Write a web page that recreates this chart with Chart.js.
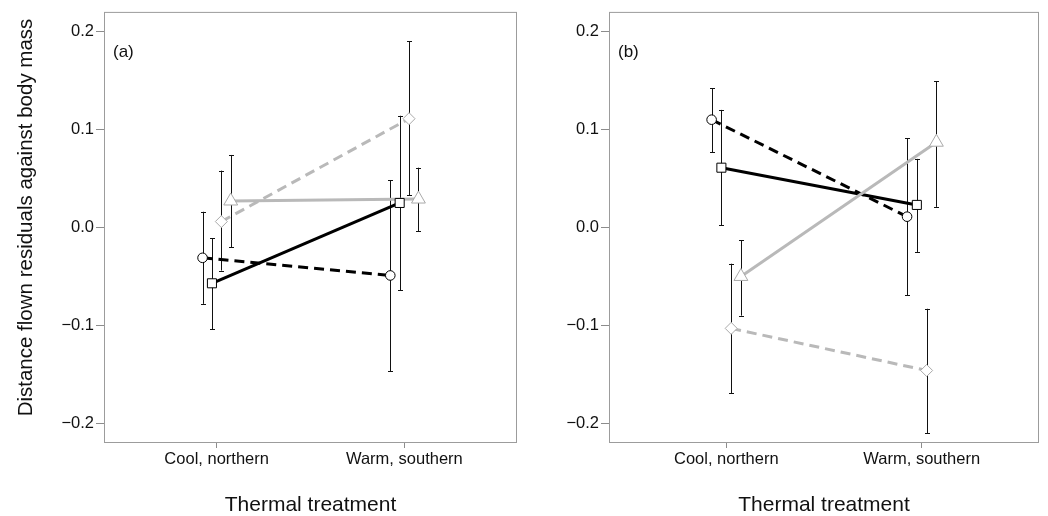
<!DOCTYPE html>
<html>
<head>
<meta charset="utf-8">
<script src="https://cdn.jsdelivr.net/npm/chart.js@4.4.1/dist/chart.umd.min.js"></script>
<style>
  html, body { margin: 0; padding: 0; background: #fff; }
  #wrap { position: relative; width: 1048px; height: 516px; }
  #wrap canvas { position: absolute; top: 0; }
</style>
</head>
<body>
<div id="wrap">
  <canvas id="panelA" width="530" height="516" style="left:0px"></canvas>
  <canvas id="panelB" width="508" height="516" style="left:540px"></canvas>
</div>
<script>
// categories and tick labels
const groups = ['Cool, northern', 'Warm, southern'];
const groupPos = [1, 2];
const dodge = [-0.075, -0.025, 0.025, 0.075];
const yTicks = [-0.2, -0.1, 0, 0.1, 0.2];
const yTickLabels = ['\u22120.2', '\u22120.1', '0.0', '0.1', '0.2'];

// panel (a): means and error limits, [cool, warm]
const aCircle = [-0.031, -0.049];
const aCircleLo = [-0.078, -0.147];
const aCircleHi = [0.016, 0.048];
const aSquare = [-0.057, 0.025];
const aSquareLo = [-0.104, -0.064];
const aSquareHi = [-0.011, 0.114];
const aDiamond = [0.006, 0.111];
const aDiamondLo = [-0.044, 0.033];
const aDiamondHi = [0.058, 0.190];
const aTriangle = [0.027, 0.029];
const aTriangleLo = [-0.020, -0.004];
const aTriangleHi = [0.074, 0.061];

// panel (b)
const bCircle = [0.110, 0.011];
const bCircleLo = [0.077, -0.069];
const bCircleHi = [0.142, 0.091];
const bSquare = [0.061, 0.023];
const bSquareLo = [0.002, -0.025];
const bSquareHi = [0.120, 0.070];
const bDiamond = [-0.103, -0.146];
const bDiamondLo = [-0.169, -0.210];
const bDiamondHi = [-0.037, -0.083];
const bTriangle = [-0.050, 0.087];
const bTriangleLo = [-0.090, 0.021];
const bTriangleHi = [-0.013, 0.149];

const FONT = '"Liberation Sans", Arial, Helvetica, sans-serif';
const GREY_LINE = '#b9b9b9';
const GREY_MARK = '#a9a9a9';

const styles = [
  { color: '#000', dash: [10, 6], point: 'circle', r: 4.8, edge: '#000' },
  { color: '#000', dash: [], point: 'rect', r: 6.4, edge: '#000' },
  { color: GREY_LINE, dash: [10, 6], point: 'rectRot', r: 6, edge: GREY_MARK },
  { color: GREY_LINE, dash: [], point: 'triangle', r: 8, edge: GREY_MARK }
];

function buildDatasets(series) {
  const lines = [], points = [];
  series.forEach((s, k) => {
    const st = styles[k];
    const pts = s.values.map((v, i) => ({ x: groupPos[i] + dodge[k], y: v }));
    lines.push({
      data: pts,
      borderColor: st.color,
      borderWidth: 3,
      borderDash: st.dash,
      pointRadius: 0,
      tension: 0,
      order: 20 - k
    });
    points.push({
      data: pts,
      showLine: false,
      pointStyle: st.point,
      pointRadius: st.r,
      pointBorderColor: st.edge,
      pointBackgroundColor: '#fff',
      pointBorderWidth: 1,
      errLo: s.lo,
      errHi: s.hi,
      order: 10 - k
    });
  });
  return lines.concat(points);
}

const panelDecor = {
  id: 'panelDecor',
  beforeDatasetsDraw(chart, args, opts) {
    const { ctx, chartArea: a, scales: { x, y } } = chart;
    ctx.save();
    ctx.strokeStyle = '#9c9c9c';
    ctx.lineWidth = 1;
    ctx.strokeRect(a.left + 0.5, a.top + 0.5, a.right - a.left - 1, a.bottom - a.top - 1);

    // error bars
    ctx.strokeStyle = '#111';
    chart.data.datasets.forEach(ds => {
      if (!ds.errLo) return;
      ds.data.forEach((p, i) => {
        const px = Math.round(x.getPixelForValue(p.x)) + 0.5;
        const yl = y.getPixelForValue(ds.errLo[i]);
        const yh = y.getPixelForValue(ds.errHi[i]);
        ctx.beginPath();
        ctx.moveTo(px, yl); ctx.lineTo(px, yh);
        ctx.moveTo(px - 2.5, Math.round(yl) + 0.5); ctx.lineTo(px + 2.5, Math.round(yl) + 0.5);
        ctx.moveTo(px - 2.5, Math.round(yh) + 0.5); ctx.lineTo(px + 2.5, Math.round(yh) + 0.5);
        ctx.stroke();
      });
    });
    ctx.restore();
  },
  afterDraw(chart, args, opts) {
    const { ctx, chartArea: a } = chart;
    ctx.save();
    ctx.fillStyle = '#111';
    ctx.font = '17px ' + FONT;
    ctx.textBaseline = 'middle';
    ctx.textAlign = 'left';
    ctx.fillText(opts.letter, a.left + 9, 52);
    if (opts.yTitle) {
      ctx.translate(32, 217.5);
      ctx.rotate(-Math.PI / 2);
      ctx.textAlign = 'center';
      ctx.textBaseline = 'alphabetic';
      ctx.font = '20.5px ' + FONT;
      ctx.fillText(opts.yTitle, 0, 0);
    }
    ctx.restore();
  }
};

function makePanel(id, series, letter, yTitle, yWidth, padRight) {
  const ctx = document.getElementById(id).getContext('2d');
  return new Chart(ctx, {
    type: 'line',
    data: { datasets: buildDatasets(series) },
    options: {
      responsive: false,
      animation: false,
      events: [],
      layout: { padding: { top: 8, right: padRight, bottom: 0, left: 0 } },
      plugins: {
        legend: { display: false },
        tooltip: { enabled: false },
        panelDecor: { letter: letter, yTitle: yTitle }
      },
      scales: {
        x: {
          type: 'linear',
          min: 0.4,
          max: 2.6,
          afterBuildTicks: s => { s.ticks = groupPos.map(v => ({ value: v })); },
          afterFit: s => { s.height = 73; },
          ticks: {
            callback: v => groups[groupPos.indexOf(v)],
            color: '#111',
            font: { family: FONT, size: 16.5 },
            padding: 2,
            maxRotation: 0
          },
          grid: { drawOnChartArea: false, tickLength: 5, tickColor: '#8c8c8c' },
          border: { display: false },
          title: {
            display: true,
            text: 'Thermal treatment',
            color: '#111',
            font: { family: FONT, size: 21, lineHeight: 1 },
            padding: { top: 0, bottom: 0 }
          }
        },
        y: {
          type: 'linear',
          min: -0.22,
          max: 0.22,
          afterBuildTicks: s => { s.ticks = yTicks.map(v => ({ value: v })); },
          afterFit: s => { s.width = yWidth; },
          ticks: {
            callback: v => yTickLabels[yTicks.findIndex(t => Math.abs(t - v) < 1e-9)],
            color: '#111',
            font: { family: FONT, size: 16.5 },
            padding: 2
          },
          grid: { drawOnChartArea: false, tickLength: 8, tickColor: '#8c8c8c' },
          border: { display: false }
        }
      }
    },
    plugins: [panelDecor]
  });
}

makePanel('panelA', [
  { values: aCircle, lo: aCircleLo, hi: aCircleHi },
  { values: aSquare, lo: aSquareLo, hi: aSquareHi },
  { values: aDiamond, lo: aDiamondLo, hi: aDiamondHi },
  { values: aTriangle, lo: aTriangleLo, hi: aTriangleHi }
], '(a)', 'Distance flown residuals against body mass', 104, 13);

makePanel('panelB', [
  { values: bCircle, lo: bCircleLo, hi: bCircleHi },
  { values: bSquare, lo: bSquareLo, hi: bSquareHi },
  { values: bDiamond, lo: bDiamondLo, hi: bDiamondHi },
  { values: bTriangle, lo: bTriangleLo, hi: bTriangleHi }
], '(b)', null, 69, 4);
</script>
</body>
</html>
